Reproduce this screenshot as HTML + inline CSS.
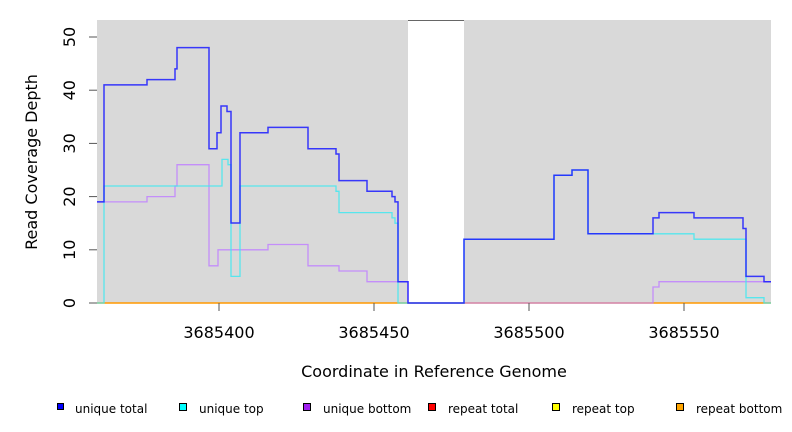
<!DOCTYPE html>
<html><head><meta charset="utf-8"><style>body{margin:0;background:#fff}svg{display:block}text{font-family:"DejaVu Sans","Liberation Sans",sans-serif}</style></head>
<body>
<svg width="792" height="432" viewBox="0 0 792 432">
<rect x="97" y="20" width="674" height="283" fill="#d9d9d9"/>
<rect x="408" y="21" width="56" height="283" fill="#fff"/>
<line x1="408" y1="20.5" x2="464" y2="20.5" stroke="#666"/>
<line x1="97" y1="303" x2="771" y2="303" stroke="#ff9900" stroke-width="1.5"/>
<polyline fill="none" stroke="#c080ff" stroke-opacity="0.85" stroke-width="1.3" points="97,201.9 147,201.9 147,196.6 175,196.6 175,186 177,186 177,164.7 209,164.7 209,265.8 218,265.8 218,249.8 268,249.8 268,244.5 308,244.5 308,265.8 339,265.8 339,271 367,271 367,281.7 408,281.7 408,303 653,303 653,287 659,287 659,281.7 771,281.7"/>
<polyline fill="none" stroke="#40e8f0" stroke-opacity="0.85" stroke-width="1.3" points="97,303 104,303 104,186 222,186 222,159.4 228,159.4 228,164.7 231,164.7 231,276.4 240,276.4 240,186 336,186 336,191.3 339,191.3 339,212.6 392,212.6 392,217.9 395,217.9 395,223.2 398,223.2 398,303 464,303 464,239.2 554,239.2 554,175.3 572,175.3 572,170 588,170 588,233.8 694,233.8 694,239.2 746,239.2 746,297.7 764,297.7 764,303 771,303"/>
<polyline fill="none" stroke="#1a1aff" stroke-opacity="0.85" stroke-width="1.5" points="97,201.9 104,201.9 104,84.9 147,84.9 147,79.6 175,79.6 175,68.9 177,68.9 177,47.6 209,47.6 209,148.7 217,148.7 217,132.8 221,132.8 221,106 227,106 227,111.5 231,111.5 231,223 240,223 240,132.8 268,132.8 268,127.4 308,127.4 308,148.7 336,148.7 336,154 339,154 339,180.6 367,180.6 367,191.3 392,191.3 392,196.6 395,196.6 395,201.9 398,201.9 398,281.7 408,281.7 408,303 464,303 464,239.2 554,239.2 554,175.3 572,175.3 572,170 588,170 588,233.8 653,233.8 653,217.9 659,217.9 659,212.6 694,212.6 694,217.9 743,217.9 743,228.5 746,228.5 746,276.4 764,276.4 764,281.7 771,281.7"/>
<g stroke="#555" stroke-width="1">
<line x1="89" y1="303" x2="97" y2="303"/><line x1="89" y1="249.8" x2="97" y2="249.8"/><line x1="89" y1="196.6" x2="97" y2="196.6"/><line x1="89" y1="143.4" x2="97" y2="143.4"/><line x1="89" y1="90.2" x2="97" y2="90.2"/><line x1="89" y1="37" x2="97" y2="37"/>
<line x1="219" y1="303" x2="219" y2="311"/><line x1="374" y1="303" x2="374" y2="311"/><line x1="529" y1="303" x2="529" y2="311"/><line x1="684" y1="303" x2="684" y2="311"/>
</g>
<g font-size="16" fill="#000" text-anchor="middle">
<text transform="translate(75,303) rotate(-90)">0</text>
<text transform="translate(75,249.8) rotate(-90)">10</text>
<text transform="translate(75,196.6) rotate(-90)">20</text>
<text transform="translate(75,143.4) rotate(-90)">30</text>
<text transform="translate(75,90.2) rotate(-90)">40</text>
<text transform="translate(75,37) rotate(-90)">50</text>
<text x="219" y="338">3685400</text><text x="374" y="338">3685450</text><text x="529" y="338">3685500</text><text x="684" y="338">3685550</text>
<text x="434" y="377">Coordinate in Reference Genome</text>
<text transform="translate(37,162) rotate(-90)">Read Coverage Depth</text>
</g>
<g font-size="12" fill="#000">
<rect x="57.5" y="403.5" width="6" height="6" fill="#0000ff" stroke="#000"/><text x="75" y="413">unique total</text>
<rect x="179.5" y="403.5" width="7" height="7" fill="#00ffff" stroke="#000"/><text x="199" y="413">unique top</text>
<rect x="303.5" y="403.5" width="7" height="7" fill="#a020f0" stroke="#000"/><text x="323" y="413">unique bottom</text>
<rect x="428.5" y="403.5" width="7" height="7" fill="#ff0000" stroke="#000"/><text x="448" y="413">repeat total</text>
<rect x="552.5" y="403.5" width="7" height="7" fill="#ffff00" stroke="#000"/><text x="572" y="413">repeat top</text>
<rect x="676.5" y="403.5" width="7" height="7" fill="#ffa500" stroke="#000"/><text x="696" y="413">repeat bottom</text>
</g>
</svg>
</body></html>
